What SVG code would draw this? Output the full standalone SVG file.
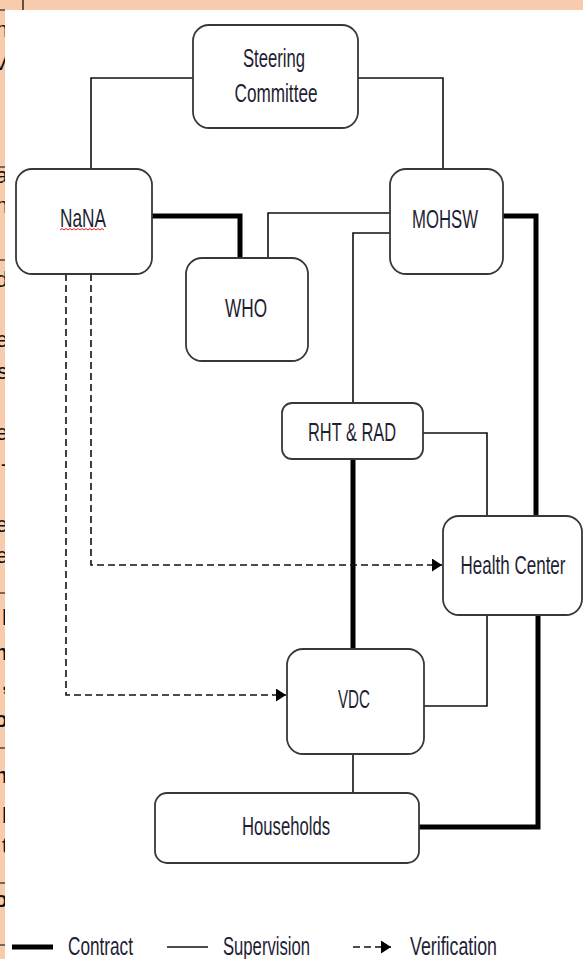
<svg xmlns="http://www.w3.org/2000/svg" width="583" height="959" viewBox="0 0 583 959">
<defs>
<style>
.bg{fill:#F8CBAD}
.rule{stroke:#000;stroke-width:1.2;fill:none}
.frag{font-family:"Liberation Sans",Arial,sans-serif;font-size:22px;fill:#111;text-anchor:end}
.fragb{font-weight:bold}
.box{fill:#fff;stroke:#383838;stroke-width:1.8}
.lbl{font-family:"Liberation Sans",Arial,sans-serif;font-size:26px;fill:#1e1e34;text-anchor:middle}
.leg{font-family:"Liberation Sans",Arial,sans-serif;font-size:26px;fill:#1e1e34}
.sup{stroke:#111;stroke-width:1.6;fill:none}
.con{stroke:#000;stroke-width:5;fill:none}
.ver{stroke:#111;stroke-width:1.6;fill:none;stroke-dasharray:7 4}
</style>
<marker id="arr" markerUnits="userSpaceOnUse" markerWidth="11" markerHeight="13" refX="10" refY="6.5" orient="auto">
<path d="M0,0 L10,6.5 L0,13 Z" fill="#000"/>
</marker>
</defs>

<!-- page background pieces -->
<rect x="0" y="0" width="583" height="959" class="bg"/>
<g id="margin-fragments">
<text class="frag" x="8" y="37">n</text>
<text class="frag" x="8" y="70">V</text>
<text class="frag" x="8" y="183">a</text>
<text class="frag" x="8" y="213">n</text>
<text class="frag" x="8" y="287">d</text>
<text class="frag" x="8" y="347">e</text>
<text class="frag" x="8" y="379">s</text>
<text class="frag" x="8" y="440">e</text>
<text class="frag" x="8" y="471">-</text>
<text class="frag" x="8" y="532">e</text>
<text class="frag" x="8" y="563">e</text>
<text class="frag fragb" x="8" y="625">l</text>
<text class="frag fragb" x="8" y="660">n</text>
<text class="frag fragb" x="8" y="690">,</text>
<text class="frag fragb" x="8" y="727">o</text>
<text class="frag fragb" x="8" y="783">n</text>
<text class="frag fragb" x="8" y="823">l</text>
<text class="frag" x="8" y="853">t</text>
<text class="frag fragb" x="8" y="907">o</text>
</g>
<rect x="5" y="10" width="578" height="949" fill="#fff"/>
<g id="table-rules">
<path class="rule" d="M23,0 V10 M0,10 H5 M0,167 H5 M0,260 H5 M0,593 H5 M0,748 H5 M0,883 H5 M0,945 H5"/>
</g>

<g id="connectors">
<!-- Supervision -->
<path class="sup" d="M91,169 V78 H193"/>
<path class="sup" d="M358,78 H443 V169"/>
<path class="sup" d="M390,213 H268 V258"/>
<path class="sup" d="M390,233 H353 V403"/>
<path class="sup" d="M423,433 H487 V516"/>
<path class="sup" d="M487,615 V706 H424"/>
<path class="sup" d="M353,754 V793"/>
<!-- Contract -->
<path class="con" d="M152,216 H240 V258"/>
<path class="con" d="M503,216 H536 V516"/>
<path class="con" d="M353,459 V649"/>
<path class="con" d="M538,615 V827 H419"/>
<!-- Verification -->
<path class="ver" d="M91,274 V565 H442" marker-end="url(#arr)"/>
<path class="ver" d="M66,274 V695 H286" marker-end="url(#arr)"/>
</g>

<g id="steering">
<rect class="box" x="193" y="25" width="165" height="103" rx="16"/>
<text class="lbl" x="274" y="67" textLength="62" lengthAdjust="spacingAndGlyphs">Steering</text>
<text class="lbl" x="276" y="102" textLength="83" lengthAdjust="spacingAndGlyphs">Committee</text>
</g>
<g id="nana">
<rect class="box" x="16" y="169" width="136" height="105" rx="16"/>
<text class="lbl" x="83" y="227" textLength="46" lengthAdjust="spacingAndGlyphs">NaNA</text>
<path d="M60,230 l2,-1.5 l2,1.5 l2,-1.5 l2,1.5 l2,-1.5 l2,1.5 l2,-1.5 l2,1.5 l2,-1.5 l2,1.5 l2,-1.5 l2,1.5 l2,-1.5 l2,1.5 l2,-1.5 l2,1.5 l2,-1.5 l2,1.5 l2,-1.5 l2,1.5 l2,-1.5 l2,1.5" fill="none" stroke="#e02020" stroke-width="1"/>
</g>
<g id="mohsw">
<rect class="box" x="390" y="169" width="113" height="105" rx="16"/>
<text class="lbl" x="445" y="228" textLength="66" lengthAdjust="spacingAndGlyphs">MOHSW</text>
</g>
<g id="who">
<rect class="box" x="186" y="258" width="122" height="103" rx="16"/>
<text class="lbl" x="246" y="317" textLength="42" lengthAdjust="spacingAndGlyphs">WHO</text>
</g>
<g id="rht-rad">
<rect class="box" x="282" y="403" width="141" height="56" rx="10"/>
<text class="lbl" x="352" y="441" textLength="88" lengthAdjust="spacingAndGlyphs">RHT &amp; RAD</text>
</g>
<g id="health-center">
<rect class="box" x="443" y="516" width="139" height="99" rx="16"/>
<text class="lbl" x="513" y="574" textLength="105" lengthAdjust="spacingAndGlyphs">Health Center</text>
</g>
<g id="vdc">
<rect class="box" x="287" y="649" width="137" height="105" rx="16"/>
<text class="lbl" x="354" y="708" textLength="32" lengthAdjust="spacingAndGlyphs">VDC</text>
</g>
<g id="households">
<rect class="box" x="155" y="793" width="264" height="70" rx="12"/>
<text class="lbl" x="286" y="835" textLength="88" lengthAdjust="spacingAndGlyphs">Households</text>
</g>

<g id="legend">
<path d="M12,947 H53" stroke="#000" stroke-width="5"/>
<text class="leg" x="68" y="955" textLength="65" lengthAdjust="spacingAndGlyphs">Contract</text>
<path d="M167,947 H208" stroke="#111" stroke-width="1.6"/>
<text class="leg" x="223" y="955" textLength="87" lengthAdjust="spacingAndGlyphs">Supervision</text>
<path class="ver" d="M353,947 H391" stroke-dasharray="5 3.5" marker-end="url(#arr)"/>
<text class="leg" x="410" y="955" textLength="87" lengthAdjust="spacingAndGlyphs">Verification</text>
</g>
</svg>
